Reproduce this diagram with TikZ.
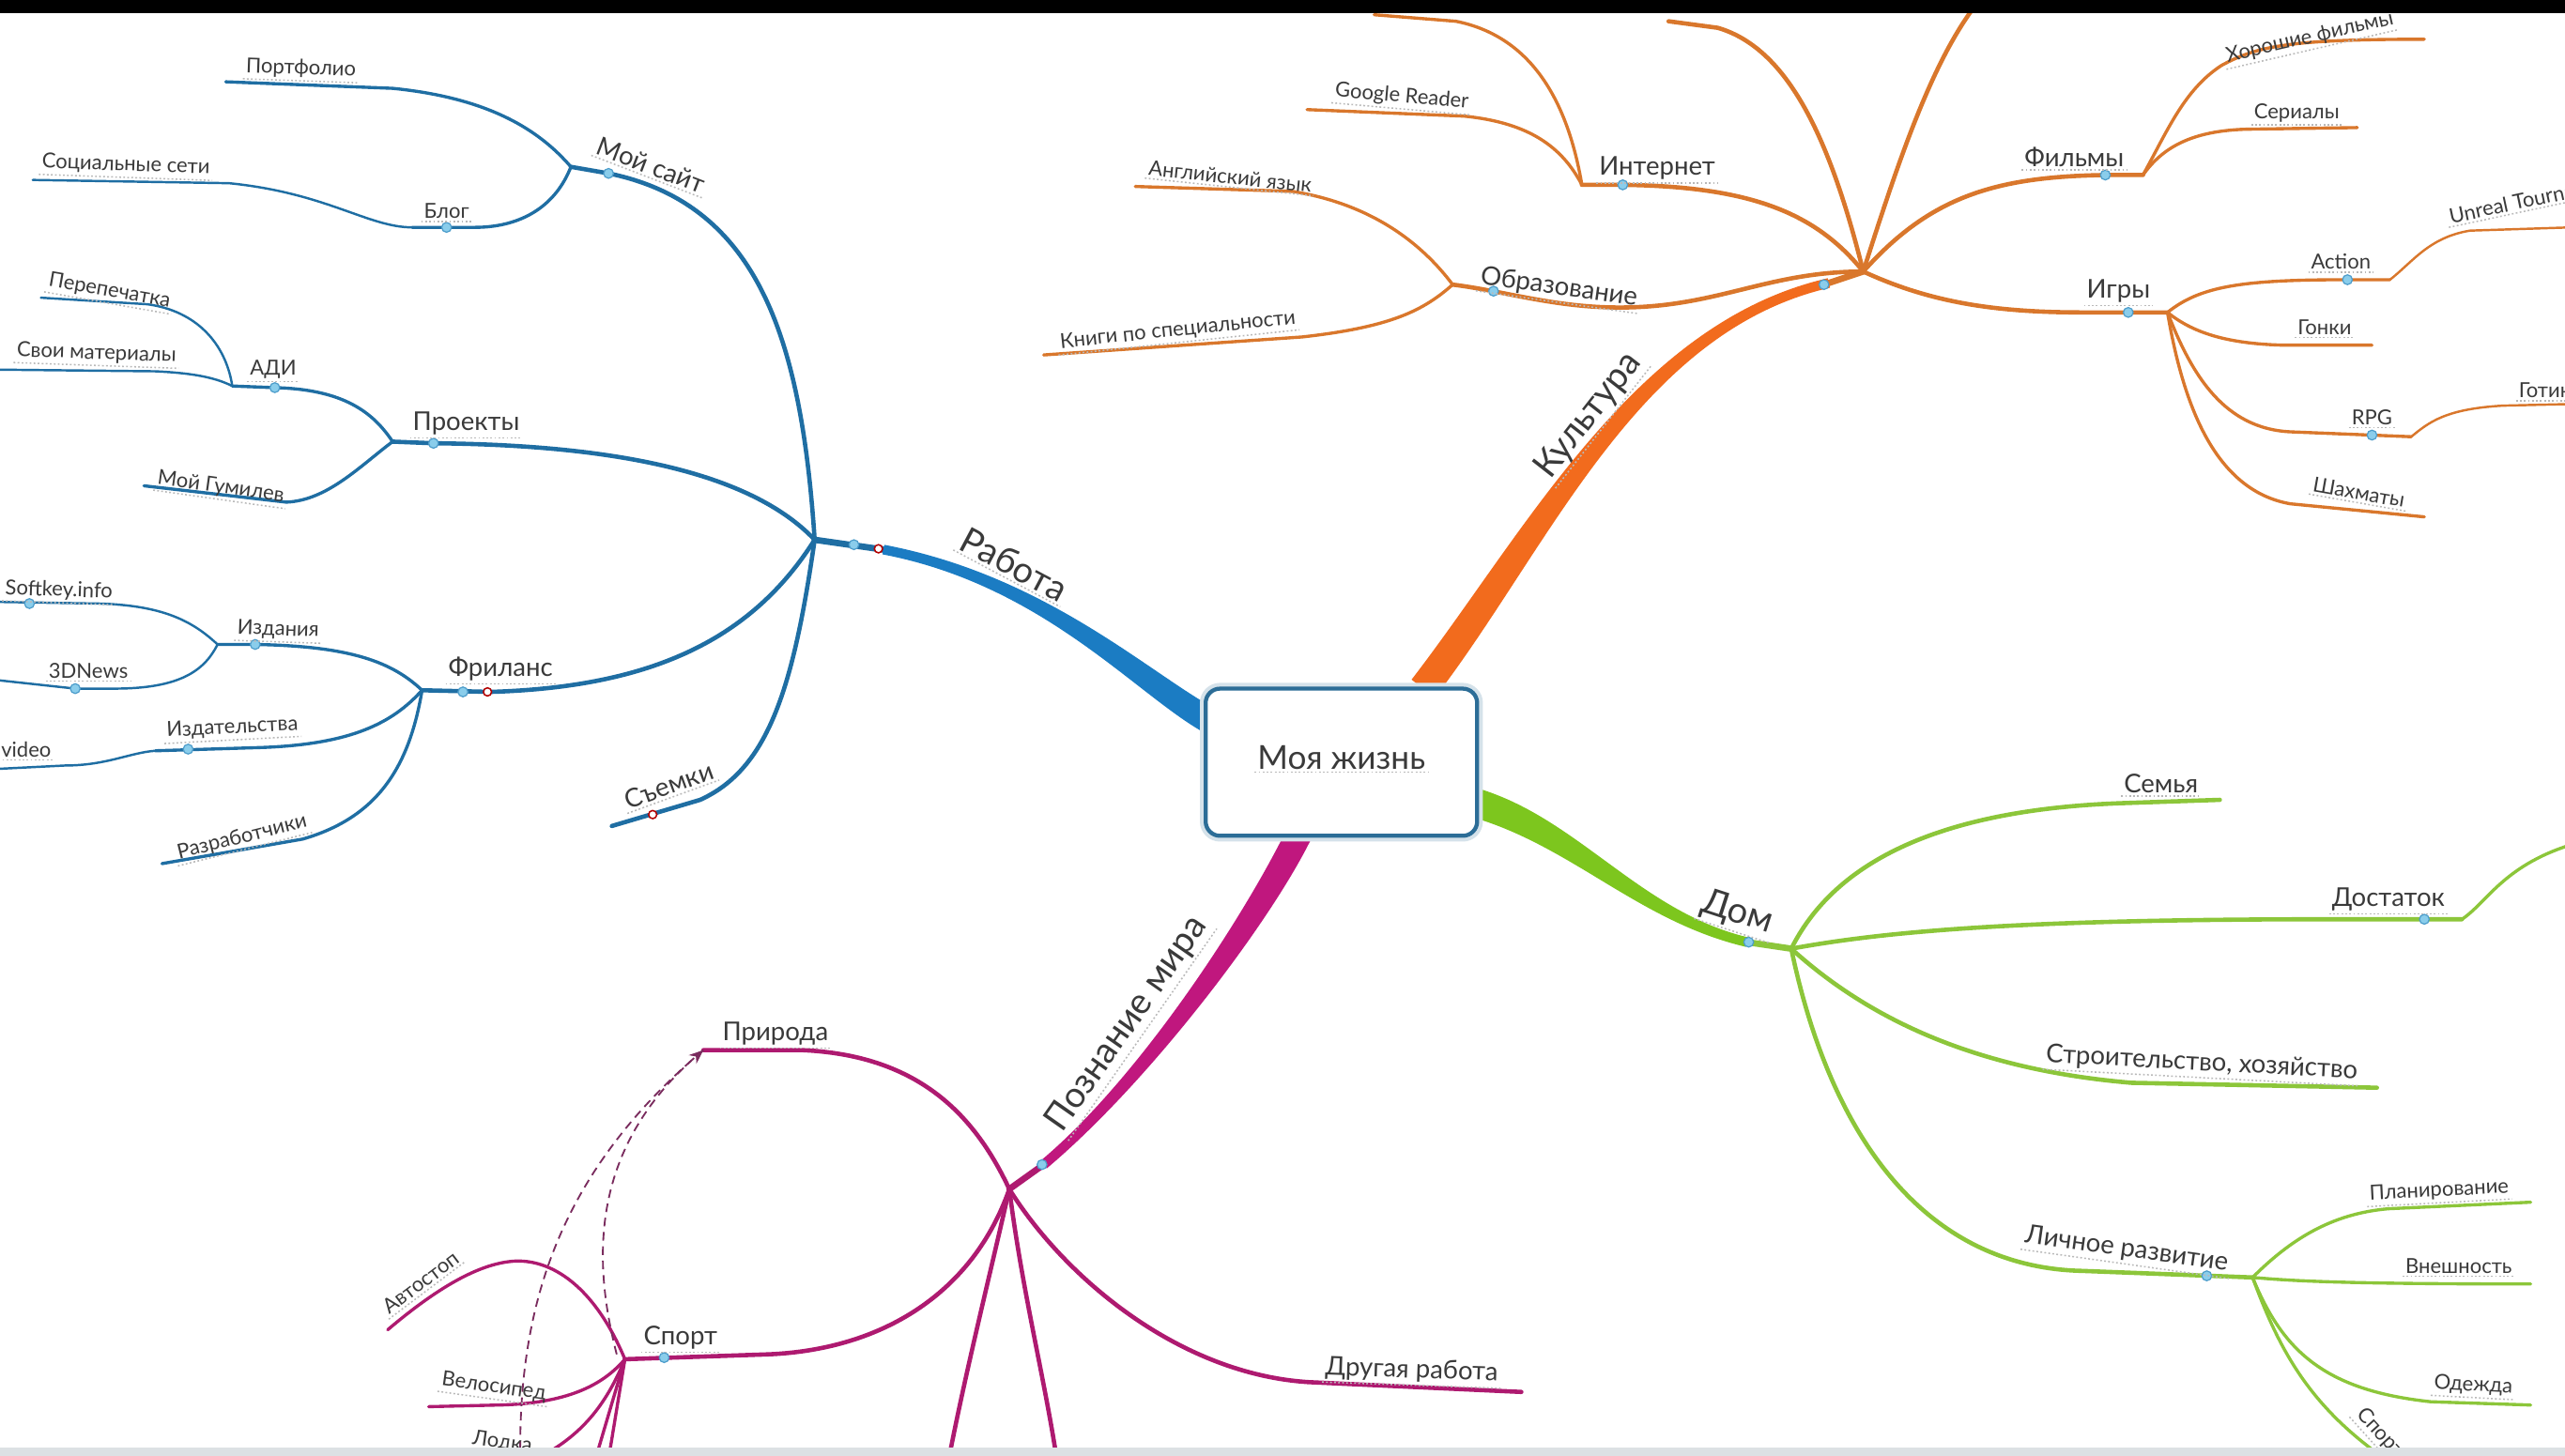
\documentclass[tikz,border=0pt]{standalone}
\usepackage{fontspec}
\setmainfont{Lato}
\usetikzlibrary{arrows.meta}
\definecolor{bT}{HTML}{1B7CC3}
\definecolor{bL}{HTML}{1F6EA3}
\definecolor{oT}{HTML}{F26B1D}
\definecolor{oL}{HTML}{D9772C}
\definecolor{gT}{HTML}{7DC61E}
\definecolor{gL}{HTML}{8CC63A}
\definecolor{mT}{HTML}{C0177E}
\definecolor{mL}{HTML}{AE1A70}
\definecolor{dashc}{HTML}{7A2C5E}
\definecolor{txtc}{HTML}{3A3A3A}
\definecolor{boxc}{HTML}{2C6D97}
\definecolor{dotf}{HTML}{8ACDEB}
\definecolor{dotd}{HTML}{4D9DCB}
\definecolor{stripc}{HTML}{DCE1E4}
\tikzset{
  l1/.style={line width=1.5pt, line cap=round},
  l2/.style={line width=1.1pt, line cap=round},
  l3/.style={line width=0.8pt, line cap=round},
  lmid/.style={line width=2.2pt, line cap=round},
  bln/.style={draw=bL}, orn/.style={draw=oL}, grn/.style={draw=gL}, mag/.style={draw=mL},
  ul/.style={draw=gray!55, line width=0.5pt, dash pattern=on 0.6pt off 0.8pt},
  lbb/.style={text=txtc, inner sep=0.8pt, append after command={(\tikzlastnode.south west) edge[ul] (\tikzlastnode.south east)}},
  lb0/.style={lbb, font=\fontsize{11.5}{13}\selectfont},
  lb1/.style={lbb, font=\fontsize{12.5}{14}\selectfont},
  lb2/.style={lbb, font=\fontsize{9}{11}\selectfont},
  lb3/.style={lbb, font=\fontsize{7.2}{9}\selectfont},
  bdot/.style={circle, fill=dotf, draw=dotd, line width=0.4pt, minimum size=0.12cm, inner sep=0pt},
  rdot/.style={circle, fill=white, draw=red!70!black, line width=0.5pt, minimum size=0.1cm, inner sep=0pt},
  dsh/.style={draw=dashc, line width=0.6pt, dash pattern=on 3pt off 2pt},
}
\begin{document}
\begin{tikzpicture}[x=0.02cm,y=-0.02cm]
\useasboundingbox (0,0) rectangle (1568,890);
\fill[white] (0,0) rectangle (1568,890);

% ---------------- BLUE (Работа) ----------------
\coordinate (R) at (498,330);
\coordinate (Rend) at (540,336);
\coordinate (MS) at (349,102);
\coordinate (PF) at (138,50);
\coordinate (BL) at (252,139);
\coordinate (SS) at (20,110);
\coordinate (PJ) at (240,270);
\coordinate (AJ) at (142,236);
\coordinate (PP) at (25,182);
\coordinate (SM) at (0,226);
\coordinate (GU) at (88,297);
\coordinate (FJ) at (258,422);
\coordinate (IJ) at (133,394);
\coordinate (SK) at (0,368);
\coordinate (DN) at (0,416);
\coordinate (IZ) at (95,459);
\coordinate (VI) at (0,470);
\coordinate (RZ) at (99,528);
\coordinate (SE) at (374,505);

\draw[bln,lmid] (Rend) -- (R);
\draw[bln,l1] (R) .. controls (490,210) and (465,125) .. (372,106) -- (MS);
\draw[bln,l2] (MS) .. controls (330,80) and (300,60) .. (240,54) -- (PF);
\draw[bln,l2] (MS) .. controls (340,125) and (320,139) .. (290,139) -- (BL);
\draw[bln,l3] (BL) .. controls (225,139) and (200,118) .. (140,112) -- (SS);
\draw[bln,l1] (R) .. controls (460,290) and (380,272) .. (265,271) -- (PJ);
\draw[bln,l2] (PJ) .. controls (228,252) and (210,238) .. (168,237) -- (AJ);
\draw[bln,l3] (AJ) .. controls (138,210) and (120,190) .. (90,186) -- (PP);
\draw[bln,l3] (AJ) .. controls (130,230) and (115,228) .. (95,227) -- (SM);
\draw[bln,l2] (PJ) .. controls (220,285) and (200,306) .. (175,307) -- (GU);
\draw[bln,l1] (R) .. controls (460,390) and (400,420) .. (300,423) -- (FJ);
\draw[bln,l2] (FJ) .. controls (240,405) and (215,395) .. (156,394) -- (IJ);
\draw[bln,l3] (IJ) .. controls (118,380) and (100,370) .. (60,369) -- (SK);
\draw[bln,l3] (IJ) .. controls (125,410) and (110,421) .. (70,421) -- (46,421) -- (DN);
\draw[bln,l2] (FJ) .. controls (240,442) and (215,455) .. (160,457) -- (IZ);
\draw[bln,l3] (IZ) .. controls (80,460) and (65,468) .. (40,468) -- (VI);
\draw[bln,l2] (FJ) .. controls (250,470) and (230,500) .. (185,513) -- (RZ);
\draw[bln,l1] (R) .. controls (485,420) and (470,470) .. (428,489) -- (SE);

% ---------------- ORANGE (Культура) ----------------
\coordinate (K) at (1139,166);
\coordinate (Kend) at (1118,173);
\coordinate (OJ) at (888,174);
\coordinate (EN) at (694,114);
\coordinate (KN) at (638,217);
\coordinate (IN) at (967,113);
\coordinate (GR) at (799,67);
\coordinate (T1) at (840,9);
\coordinate (T2) at (1020,13);
\coordinate (T3) at (1207,4);
\coordinate (FM) at (1310,107);
\coordinate (HF) at (1482,24);
\coordinate (SR) at (1441,78);
\coordinate (IG) at (1325,191);
\coordinate (AC) at (1461,171);
\coordinate (UT) at (1572,139);
\coordinate (GN) at (1450,211);
\coordinate (RP) at (1474,267);
\coordinate (GT) at (1572,247);
\coordinate (SH) at (1482,316);

\draw[orn,lmid] (Kend) -- (K);
\draw[orn,l1] (K) .. controls (1080,166) and (1050,188) .. (990,188) .. controls (950,188) and (920,178) .. (OJ);
\draw[orn,l2] (OJ) .. controls (870,150) and (840,125) .. (790,117) -- (EN);
\draw[orn,l2] (OJ) .. controls (870,190) and (850,200) .. (796,206) -- (KN);
\draw[orn,l1] (K) .. controls (1110,130) and (1070,114) .. (992,113) -- (IN);
\draw[orn,l2] (IN) .. controls (955,90) and (935,75) .. (895,71) -- (GR);
\draw[orn,l2] (IN) .. controls (958,60) and (935,22) .. (890,13) -- (T1);
\draw[orn,l1] (K) .. controls (1120,90) and (1095,30) .. (1050,17) -- (T2);
\draw[orn,l1] (K) .. controls (1160,100) and (1180,40) .. (T3);
\draw[orn,l1] (K) .. controls (1180,120) and (1220,108) .. (1287,107) -- (FM);
\draw[orn,l2] (FM) .. controls (1325,80) and (1335,55) .. (1358,40) .. controls (1380,28) and (1400,24) .. (HF);
\draw[orn,l2] (FM) .. controls (1322,90) and (1340,80) .. (1373,79) -- (SR);
\draw[orn,l1] (K) .. controls (1180,185) and (1220,191) .. (1273,191) -- (IG);
\draw[orn,l2] (IG) .. controls (1345,175) and (1370,171) .. (1435,171) -- (AC);
\draw[orn,l3] (AC) .. controls (1475,160) and (1485,145) .. (1510,141) -- (UT);
\draw[orn,l2] (IG) .. controls (1340,203) and (1360,210) .. (1395,211) -- (GN);
\draw[orn,l2] (IG) .. controls (1340,230) and (1360,262) .. (1400,264) -- (RP);
\draw[orn,l3] (RP) .. controls (1485,258) and (1495,250) .. (1530,248) -- (GT);
\draw[orn,l2] (IG) .. controls (1335,250) and (1355,300) .. (1400,308) -- (SH);

% ---------------- GREEN (Дом) ----------------
\coordinate (D) at (1095,580);
\coordinate (Dend) at (1068,576);
\coordinate (SEM) at (1357,489);
\coordinate (DOS) at (1505,562);
\coordinate (DOS2) at (1570,517);
\coordinate (STR) at (1453,665);
\coordinate (LR) at (1377,781);
\coordinate (PL) at (1547,735);
\coordinate (VN) at (1547,785);
\coordinate (OD) at (1547,859);
\coordinate (SPg) at (1470,900);

\draw[grn,lmid] (Dend) -- (D);
\draw[grn,l1] (D) .. controls (1120,530) and (1180,495) .. (1298,491) -- (SEM);
\draw[grn,l1] (D) .. controls (1160,568) and (1250,562) .. (1426,562) -- (DOS);
\draw[grn,l2] (DOS) .. controls (1520,552) and (1530,530) .. (DOS2);
\draw[grn,l1] (D) .. controls (1150,630) and (1220,655) .. (1303,662) -- (STR);
\draw[grn,l1] (D) .. controls (1120,700) and (1180,775) .. (1273,777) -- (LR);
\draw[grn,l2] (LR) .. controls (1400,758) and (1425,742) .. (1460,739) -- (PL);
\draw[grn,l2] (LR) .. controls (1400,783) and (1430,785) .. (VN);
\draw[grn,l2] (LR) .. controls (1395,825) and (1420,850) .. (1486,857) -- (OD);
\draw[grn,l2] (LR) .. controls (1395,830) and (1415,865) .. (SPg);

% ---------------- MAGENTA (Познание мира) ----------------
\coordinate (M) at (617,727);
\coordinate (Mend) at (638,712);
\coordinate (PRI) at (430,642);
\coordinate (SPm) at (382,831);
\coordinate (AV) at (237,813);
\coordinate (VE) at (262,860);
\coordinate (LO) at (328,892);
\coordinate (V1) at (364,892);
\coordinate (V2) at (372,892);
\coordinate (MB1) at (580,892);
\coordinate (MB2) at (646,892);
\coordinate (DR) at (930,851);
\coordinate (DA) at (318,886);
\coordinate (DB) at (377,828);

\draw[mag,lmid] (Mend) -- (M);
\draw[mag,l1] (M) .. controls (595,680) and (560,645) .. (490,642) -- (PRI);
\draw[mag,l1] (M) .. controls (595,790) and (540,825) .. (470,828) -- (SPm);
\draw[mag,l2] (SPm) .. controls (365,790) and (340,770) .. (315,771) .. controls (295,772) and (270,785) .. (AV);
\draw[mag,l2] (SPm) .. controls (370,845) and (350,858) .. (305,859) -- (VE);
\draw[mag,l2] (SPm) .. controls (370,860) and (355,878) .. (LO);
\draw[mag,l2] (SPm) -- (V1);
\draw[mag,l2] (SPm) -- (V2);
\draw[mag,l1] (M) .. controls (605,780) and (590,840) .. (MB1);
\draw[mag,l1] (M) .. controls (625,790) and (638,840) .. (MB2);
\draw[mag,l1] (M) .. controls (650,780) and (720,840) .. (800,845) -- (DR);
\draw[dsh,-{Stealth[length=5pt,width=4pt]}] (DA) .. controls (318,800) and (340,720) .. (PRI);
\draw[dsh] (DB) .. controls (362,770) and (360,700) .. (PRI);

% ---------------- thick tapered main branches ----------------
\fill[bT] (745.7,434.9) .. controls (703.7,412.9) and (640.6,352.1) .. (540.6,333.1) -- (539.4,338.9) .. controls (639.4,357.9) and (696.3,427.1) .. (738.3,449.1) -- cycle;
\fill[oT] (877.1,426.5) .. controls (947.1,335.5) and (1000.7,202.9) .. (1118.7,175.9) -- (1117.3,170.1) .. controls (999.3,197.1) and (932.9,324.5) .. (862.9,415.5) -- cycle;
\fill[gT] (892.9,497.7) .. controls (957.9,513.7) and (999.3,562.9) .. (1067.3,578.9) -- (1068.7,573.1) .. controls (1000.7,557.1) and (962.2,496.3) .. (897.2,480.3) -- cycle;
\fill[mT] (787.8,504.5) .. controls (762.8,556.5) and (698.1,657.7) .. (636.1,709.7) -- (639.9,714.3) .. controls (701.9,662.3) and (777.2,563.5) .. (802.2,511.5) -- cycle;

% ---------------- centre ----------------
\node[draw=boxc, line width=1.4pt, fill=white, rounded corners=5pt, minimum width=3.32cm, minimum height=1.8cm, inner sep=0pt, preaction={draw=boxc!20, line width=4pt}] (C) at (820,466) {};
\node[lb0] (Ct) at (820,463) {Моя жизнь};

% ---------------- dots ----------------
\node[bdot] (dRab) at (522,333) {};
\node[rdot] (rRab) at (537,335.5) {};
\node[bdot] (dMS) at (372,106) {};
\node[bdot] (dBL) at (273,139) {};
\node[bdot] (dPR) at (265,271) {};
\node[bdot] (dAD) at (168,237) {};
\node[bdot] (dFR) at (283,423) {};
\node[rdot] (rFR) at (298,423) {};
\node[bdot] (dIZ) at (156,394) {};
\node[bdot] (dSK) at (18,369) {};
\node[bdot] (dDN) at (46,421) {};
\node[bdot] (dIT) at (115,458) {};
\node[rdot] (rSE) at (399,498) {};
\node[bdot] (dKU) at (1115,174) {};
\node[bdot] (dIN) at (992,113) {};
\node[bdot] (dOB) at (913,178) {};
\node[bdot] (dFM) at (1287,107) {};
\node[bdot] (dIG) at (1301,191) {};
\node[bdot] (dAC) at (1435,171) {};
\node[bdot] (dRP) at (1450,266) {};
\node[bdot] (dDOM) at (1069,576) {};
\node[bdot] (dDOS) at (1482,562) {};
\node[bdot] (dLR) at (1349,780) {};
\node[bdot] (dPM) at (637,712) {};
\node[bdot] (dSP) at (406,830) {};

% ---------------- labels: blue ----------------
\node[lb1,rotate=-28] (nRab) at (620,345) {Работа};
\node[lb2,rotate=-21] (nMS) at (398,101) {Мой сайт};
\node[lb3,rotate=-2] (nPF) at (184,42) {Портфолио};
\node[lb3] (nBL) at (273,129) {Блог};
\node[lb3,rotate=-2] (nSS) at (77,101) {Социальные сети};
\node[lb2] (nPR) at (285,259) {Проекты};
\node[lb3] (nAD) at (167,226) {АДИ};
\node[lb3,rotate=-10] (nPP) at (67,178) {Перепечатка};
\node[lb3,rotate=-2] (nSM) at (59,216) {Свои материалы};
\node[lb3,rotate=-8] (nGU) at (135,298) {Мой Гумилев};
\node[lb2] (nFR) at (306,409) {Фриланс};
\node[lb3,rotate=-2] (nIZ) at (170,385) {Издания};
\node[lb3,rotate=-2] (nSK) at (36,361) {Softkey.info};
\node[lb3] (nDN) at (54,410) {3DNews};
\node[lb3,rotate=3] (nIT) at (142,445) {Издательства};
\node[lb3] (nVI) at (16,458) {video};
\node[lb3,rotate=14] (nRZ) at (148,512) {Разработчики};
\node[lb2,rotate=20] (nSE) at (409,480) {Съемки};

% ---------------- labels: orange ----------------
\node[lb1,rotate=52] (nKU) at (971,254) {Культура};
\node[lb2,rotate=-8] (nOB) at (953,176) {Образование};
\node[lb3,rotate=-6] (nEN) at (752,108) {Английский язык};
\node[lb3,rotate=6] (nKN) at (720,202) {Книги по специальности};
\node[lb2] (nIN) at (1013,103) {Интернет};
\node[lb3,rotate=-5] (nGR) at (857,59) {Google Reader};
\node[lb2] (nFM) at (1268,96) {Фильмы};
\node[lb3,rotate=13] (nHF) at (1412,23) {Хорошие фильмы};
\node[lb3] (nSR) at (1404,69) {Сериалы};
\node[lb2] (nIG) at (1295,178) {Игры};
\node[lb3] (nAC) at (1431,160) {Action};
\node[lb3,rotate=12,anchor=south west] (nUT) at (1497,139) {Unreal Tournament};
\node[lb3] (nGN) at (1421,200) {Гонки};
\node[lb3] (nRP) at (1450,255) {RPG};
\node[lb3,anchor=south west] (nGT) at (1538,245) {Готика};
\node[lb3,rotate=-10] (nSH) at (1442,301) {Шахматы};

% ---------------- labels: green ----------------
\node[lb1,rotate=-18] (nDOM) at (1062,558) {Дом};
\node[lb2] (nSEM) at (1321,479) {Семья};
\node[lb2] (nDOS) at (1460,550) {Достаток};
\node[lb2,rotate=-3] (nSTR) at (1346,650) {Строительство, хозяйство};
\node[lb2,rotate=-8] (nLR) at (1300,764) {Личное развитие};
\node[lb3,rotate=3] (nPL) at (1491,728) {Планирование};
\node[lb3] (nVN) at (1503,774) {Внешность};
\node[lb3,rotate=-3] (nOD) at (1512,847) {Одежда};
\node[lb3,rotate=-48] (nSPg) at (1455,876) {Спорт};

% ---------------- labels: magenta ----------------
\node[lb1,rotate=55] (nPM) at (689,626) {Познание мира};
\node[lb2] (nPRI) at (474,632) {Природа};
\node[lb2] (nSPm) at (416,818) {Спорт};
\node[lb3,rotate=37] (nAV) at (257,784) {Автостоп};
\node[lb3,rotate=-8] (nVE) at (302,848) {Велосипед};
\node[lb3,rotate=-8] (nLO) at (307,882) {Лодка};
\node[lb2,rotate=-2] (nDR) at (863,838) {Другая работа};

% ---------------- frame bands ----------------
\fill[black] (0,0) rectangle (1568,8);
\fill[stripc] (0,885) rectangle (1568,890);
\end{tikzpicture}
\end{document}
